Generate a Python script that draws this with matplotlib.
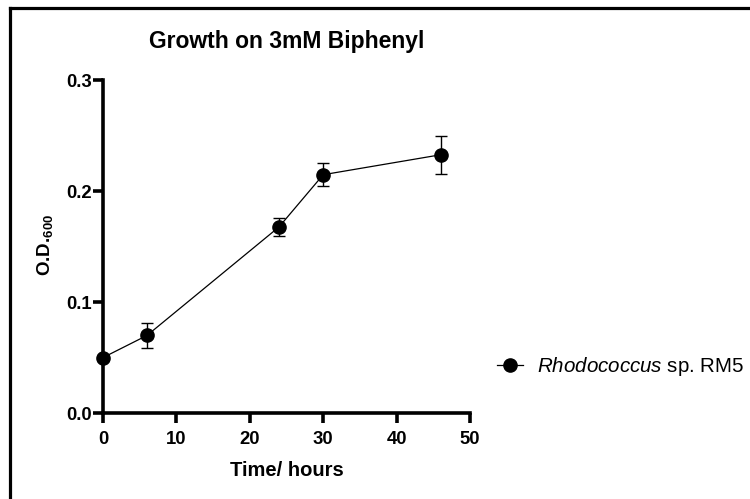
import matplotlib
matplotlib.use("Agg")
import matplotlib.pyplot as plt
from matplotlib.lines import Line2D

plt.rcParams['font.family'] = ['Liberation Sans', 'DejaVu Sans']
plt.rcParams['mathtext.fontset'] = 'custom'
plt.rcParams['mathtext.rm'] = 'Liberation Sans'
plt.rcParams['mathtext.it'] = 'Liberation Sans:italic'
plt.rcParams['mathtext.bf'] = 'Liberation Sans:bold'

time_h = [0, 6, 24, 30, 46]
od600 = [0.050, 0.070, 0.168, 0.215, 0.233]
od_err = [0.0, 0.0115, 0.008, 0.0105, 0.017]
x_ticks = [0, 10, 20, 30, 40, 50]
y_ticks = [0.0, 0.1, 0.2, 0.3]
y_tick_labels = ["0.0", "0.1", "0.2", "0.3"]
series_label = r"$\it{Rhodococcus}$ sp. RM5"

W, H = 750, 499
fig = plt.figure(figsize=(7.5, 4.99), dpi=100)
ax = fig.add_axes([103 / W, 1 - 413 / H, (470 - 103) / W, (413 - 80.5) / H])

ax.errorbar(time_h, od600, yerr=od_err, fmt='none', ecolor='black',
            elinewidth=1.0, capsize=4.5, capthick=1.0, zorder=2)
ax.plot(time_h, od600, color='black', lw=0.9, marker='o', markersize=9.5,
        markerfacecolor='black', markeredgecolor='black', label=series_label, zorder=3)

ax.set_xlim(0, 50)
ax.set_ylim(0, 0.3)
ax.set_xticks(x_ticks)
ax.set_yticks(y_ticks)
ax.set_yticklabels(y_tick_labels)
for s in ['top', 'right']:
    ax.spines[s].set_visible(False)
for s in ['left', 'bottom']:
    ax.spines[s].set_linewidth(2.6)
ax.tick_params(axis='both', direction='out', length=7, width=2.6,
               labelsize=13.3)
ax.tick_params(axis='y', pad=1)
ax.tick_params(axis='x', pad=6)
for lab in ax.get_xticklabels() + ax.get_yticklabels():
    lab.set_fontweight('bold')
for art in ax.get_children():
    try:
        art.set_clip_on(False)
    except Exception:
        pass

fig.text(287 / W, 1 - 48 / H, "Growth on 3mM Biphenyl", ha='center', va='baseline',
         fontsize=16.5, fontweight='bold')
fig.text(286.5 / W, 1 - 476 / H, "Time/ hours", ha='center', va='baseline',
         fontsize=14.5, fontweight='bold')
fig.text(45 / W, 1 - 245 / H, r"O.D.$_{\mathbf{600}}$", ha='center', va='center',
         rotation=90, fontsize=13.5, fontweight='bold')

leg = ax.legend(loc='center left', bbox_to_anchor=(497 / W, 1 - 367 / H),
                bbox_transform=fig.transFigure, frameon=False, borderpad=0,
                borderaxespad=0, handlelength=1.25, handletextpad=0.7,
                fontsize=14.8)

fig.add_artist(Line2D([10 / W, 10 / W], [0, 1 - 7.5 / H], transform=fig.transFigure,
                      color='black', lw=2.3, solid_capstyle='projecting'))
fig.add_artist(Line2D([10 / W, 1], [1 - 7.5 / H, 1 - 7.5 / H], transform=fig.transFigure,
                      color='black', lw=2.3, solid_capstyle='projecting'))

fig.savefig("out.png", dpi=100)
